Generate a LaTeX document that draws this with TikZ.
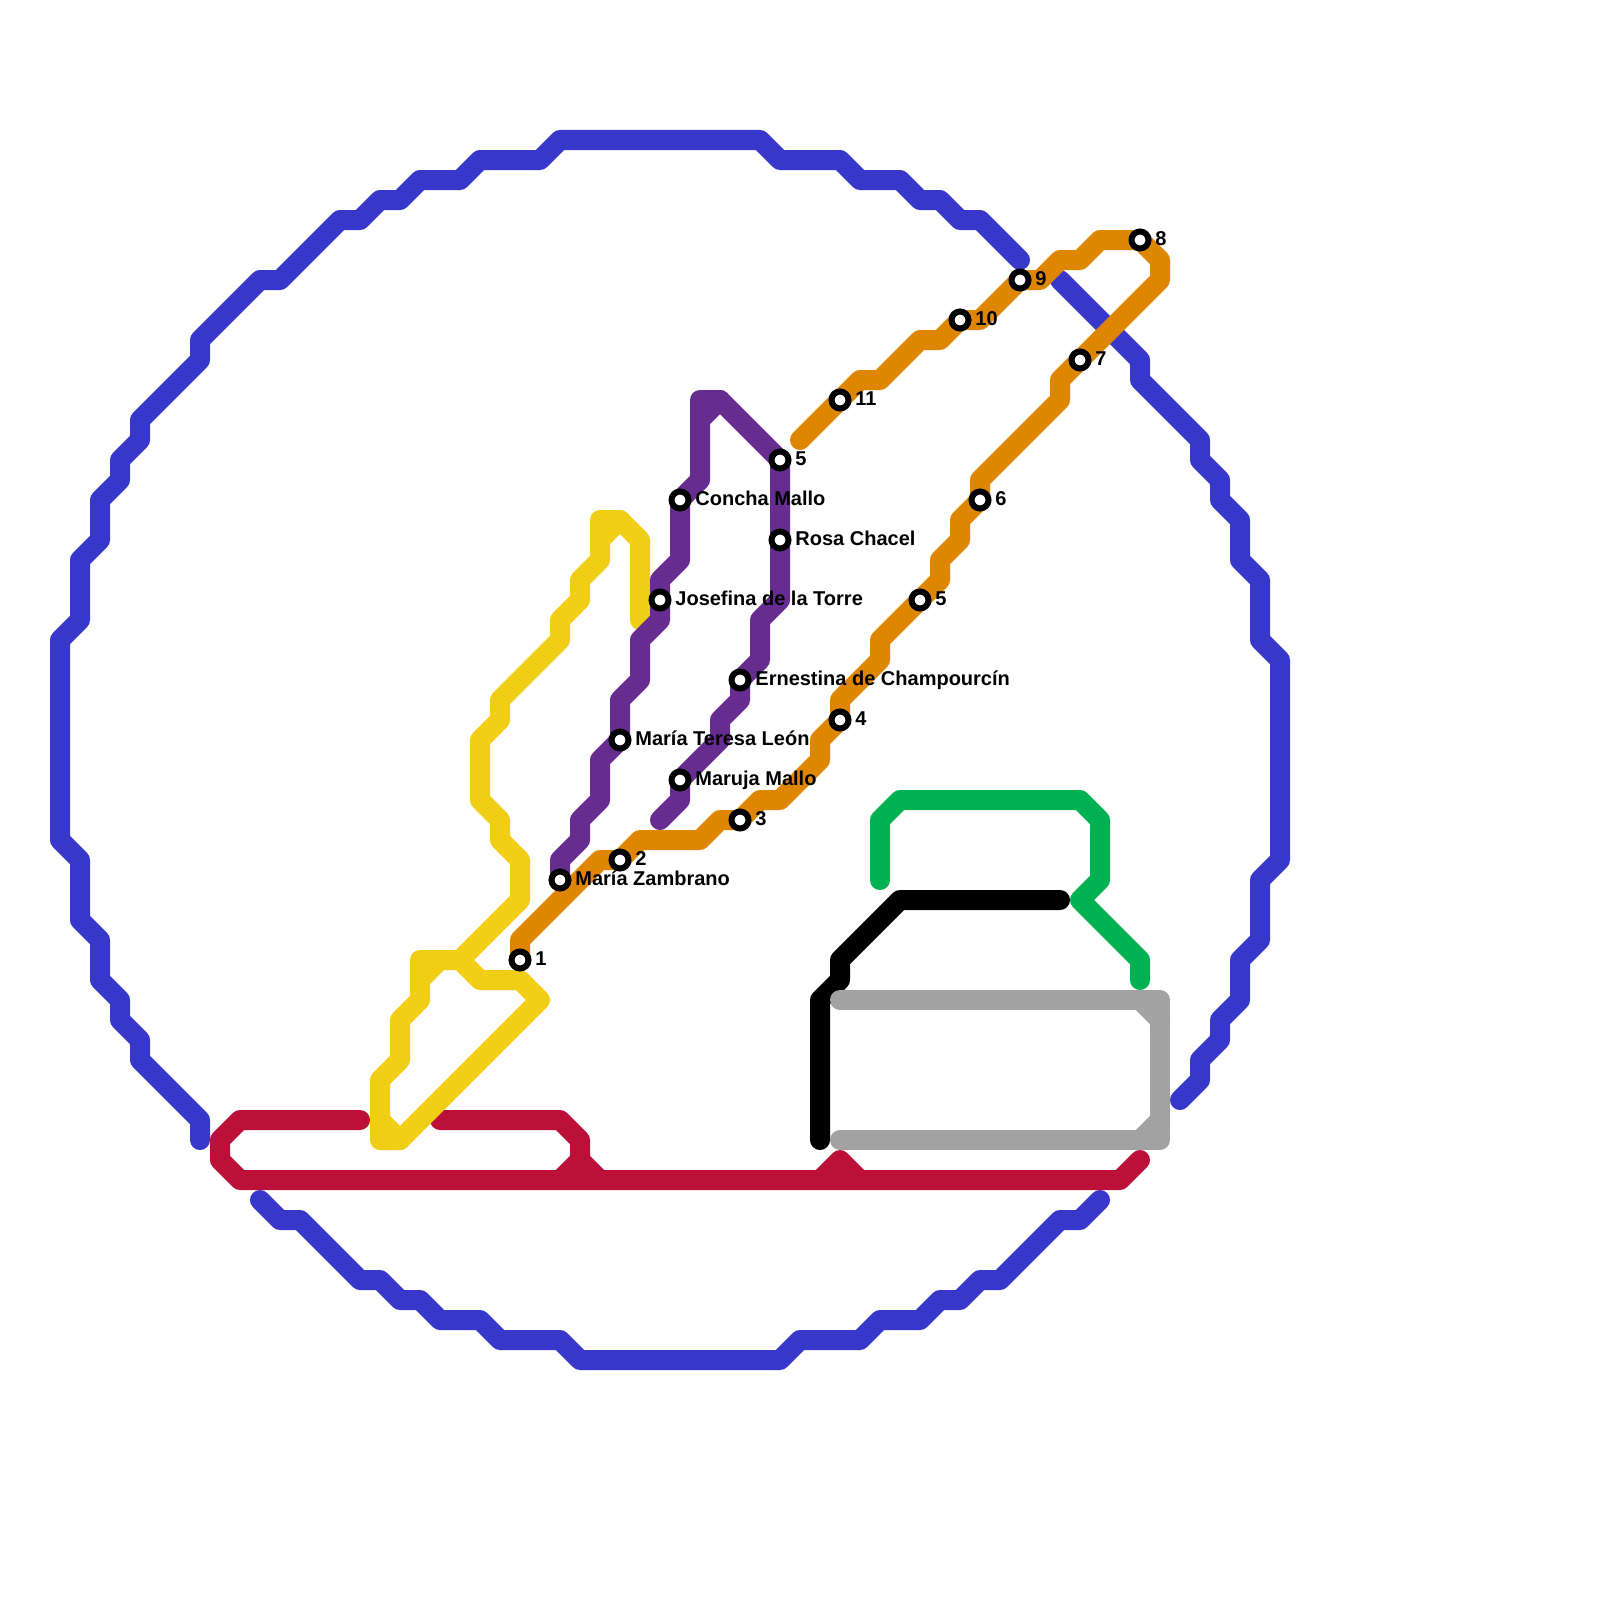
\documentclass[tikz,border=0pt]{standalone}
\usepackage{fontspec}
\setmainfont{Liberation Sans}
\definecolor{cblue}{HTML}{3737C9}
\definecolor{cred}{HTML}{BC1038}
\definecolor{cyel}{HTML}{F0CE15}
\definecolor{cora}{HTML}{DF8600}
\definecolor{cpur}{HTML}{662C90}
\definecolor{cgre}{HTML}{00B251}
\definecolor{cgry}{HTML}{A2A2A2}
\tikzset{
 route/.style={line width=10pt,line cap=round,line join=round},
 stn/.style={circle,draw=black,fill=white,line width=3pt,minimum size=8.5pt,inner sep=0pt,outer sep=0pt},
 lbl/.style={anchor=west,inner sep=0pt,font=\bfseries\fontsize{10}{11}\selectfont,text=black,text height=7.2pt,text depth=0pt},
}
\begin{document}
\begin{tikzpicture}[x=10pt,y=-10pt]
\useasboundingbox (0,0) rectangle (80,80);
\fill[white] (0,0) rectangle (80,80);
% station positions
\coordinate (s1) at (26,48); \coordinate (s2) at (31,43); \coordinate (s3) at (37,41);
\coordinate (s4) at (42,36); \coordinate (s5) at (46,30); \coordinate (s6) at (49,25);
\coordinate (s7) at (54,18); \coordinate (s8) at (57,12); \coordinate (s9) at (51,14);
\coordinate (s10) at (48,16); \coordinate (s11) at (42,20);
\coordinate (p1) at (28,44); \coordinate (p2) at (31,37); \coordinate (p3) at (33,30);
\coordinate (p4) at (34,25); \coordinate (p5) at (39,23); \coordinate (p6) at (39,27);
\coordinate (p7) at (37,34); \coordinate (p8) at (34,39);
% blue
\draw[route,cblue] (10,57)--(10,56)--(7,53)--(7,52)--(6,51)--(6,50)--(5,49)--(5,47)--(4,46)--(4,43)--(3,42)--(3,32)--(4,31)--(4,28)--(5,27)--(5,25)--(6,24)--(6,23)--(7,22)--(7,21)--(10,18)--(10,17)--(13,14)--(14,14)--(17,11)--(18,11)--(19,10)--(20,10)--(21,9)--(23,9)--(24,8)--(27,8)--(28,7)--(38,7)--(39,8)--(42,8)--(43,9)--(45,9)--(46,10)--(47,10)--(48,11)--(49,11)--(51,13);
\draw[route,cblue] (53,14)--(57,18)--(57,19)--(60,22)--(60,23)--(61,24)--(61,25)--(62,26)--(62,28)--(63,29)--(63,32)--(64,33)--(64,43)--(63,44)--(63,47)--(62,48)--(62,50)--(61,51)--(61,52)--(60,53)--(60,54)--(59,55);
\draw[route,cblue] (13,60)--(14,61)--(15,61)--(18,64)--(19,64)--(20,65)--(21,65)--(22,66)--(24,66)--(25,67)--(28,67)--(29,68)--(39,68)--(40,67)--(43,67)--(44,66)--(46,66)--(47,65)--(48,65)--(49,64)--(50,64)--(53,61)--(54,61)--(55,60);
% red
\draw[route,cred] (18,56)--(12,56)--(11,57)--(11,58)--(12,59)--(56,59)--(57,58);
\draw[route,cred] (22,56)--(28,56)--(29,57)--(29,58)--(30,59);
\draw[route,cred] (29,58)--(28,59);
\draw[route,cred] (41,59)--(42,58)--(43,59);
% black
\draw[route,black] (41,57)--(41,50)--(42,49)--(42,48)--(45,45)--(53,45);
% gray
\draw[route,cgry] (42,50)--(58,50)--(58,57)--(42,57);
\draw[route,cgry] (57,50)--(58,51);
\draw[route,cgry] (57,57)--(58,56);
% green
\draw[route,cgre] (44,44)--(44,41)--(45,40)--(54,40)--(55,41)--(55,44)--(54,45)--(57,48)--(57,49);
% yellow
\draw[route,cyel] (32,31)--(32,27)--(31,26)--(30,26)--(30,28)--(29,29)--(29,30)--(28,31)--(28,32)--(25,35)--(25,36)--(24,37)--(24,40)--(25,41)--(25,42)--(26,43)--(26,45)--(23,48)--(21,48)--(21,50)--(20,51)--(20,53)--(19,54)--(19,57)--(20,57)--(27,50)--(26,49)--(24,49)--(23,48);
\draw[route,cyel] (30,27)--(31,26);
\draw[route,cyel] (21,49)--(22,48);
\draw[route,cyel] (19,56)--(20,57);
% purple
\draw[route,cpur] (p1)--(28,43)--(29,42)--(29,41)--(30,40)--(30,38)--(p2)--(31,35)--(32,34)--(32,32)--(33,31)--(p3)--(33,29)--(34,28)--(p4)--(35,24)--(35,20)--(36,20)--(p5)--(p6)--(39,30)--(38,31)--(38,33)--(p7)--(37,35)--(36,36)--(36,37)--(p8)--(34,40)--(33,41);
\draw[route,cpur] (35,21)--(36,20);
% orange
\draw[route,cora] (s1)--(26,47)--(30,43)--(s2)--(32,42)--(35,42)--(36,41)--(s3)--(38,40)--(39,40)--(41,38)--(41,37)--(s4)--(42,35)--(44,33)--(44,32)--(s5)--(47,29)--(47,28)--(48,27)--(48,26)--(s6)--(49,24)--(53,20)--(53,19)--(s7)--(58,14)--(58,13)--(s8)--(55,12)--(54,13)--(53,13)--(52,14)--(s9)--(49,16)--(s10)--(47,17)--(46,17)--(44,19)--(43,19)--(s11)--(40,22);
% stations
\foreach \n in {s1,s2,s3,s4,s5,s6,s7,s8,s9,s10,s11,p1,p2,p3,p4,p5,p6,p7,p8}{\node[stn] (n\n) at (\n) {};}
% labels
\foreach \n/\t in {s1/1,s2/2,s3/3,s4/4,s5/5,s6/6,s7/7,s8/8,s9/9,s10/10,s11/11,p1/María Zambrano,p2/María Teresa León,p3/Josefina de la Torre,p4/Concha Mallo,p5/5,p6/Rosa Chacel,p7/Ernestina de Champourcín,p8/Maruja Mallo}{
 \node[lbl] (l\n) at ([xshift=7.5pt,yshift=0.8pt]\n) {\t};}
\end{tikzpicture}
\end{document}
